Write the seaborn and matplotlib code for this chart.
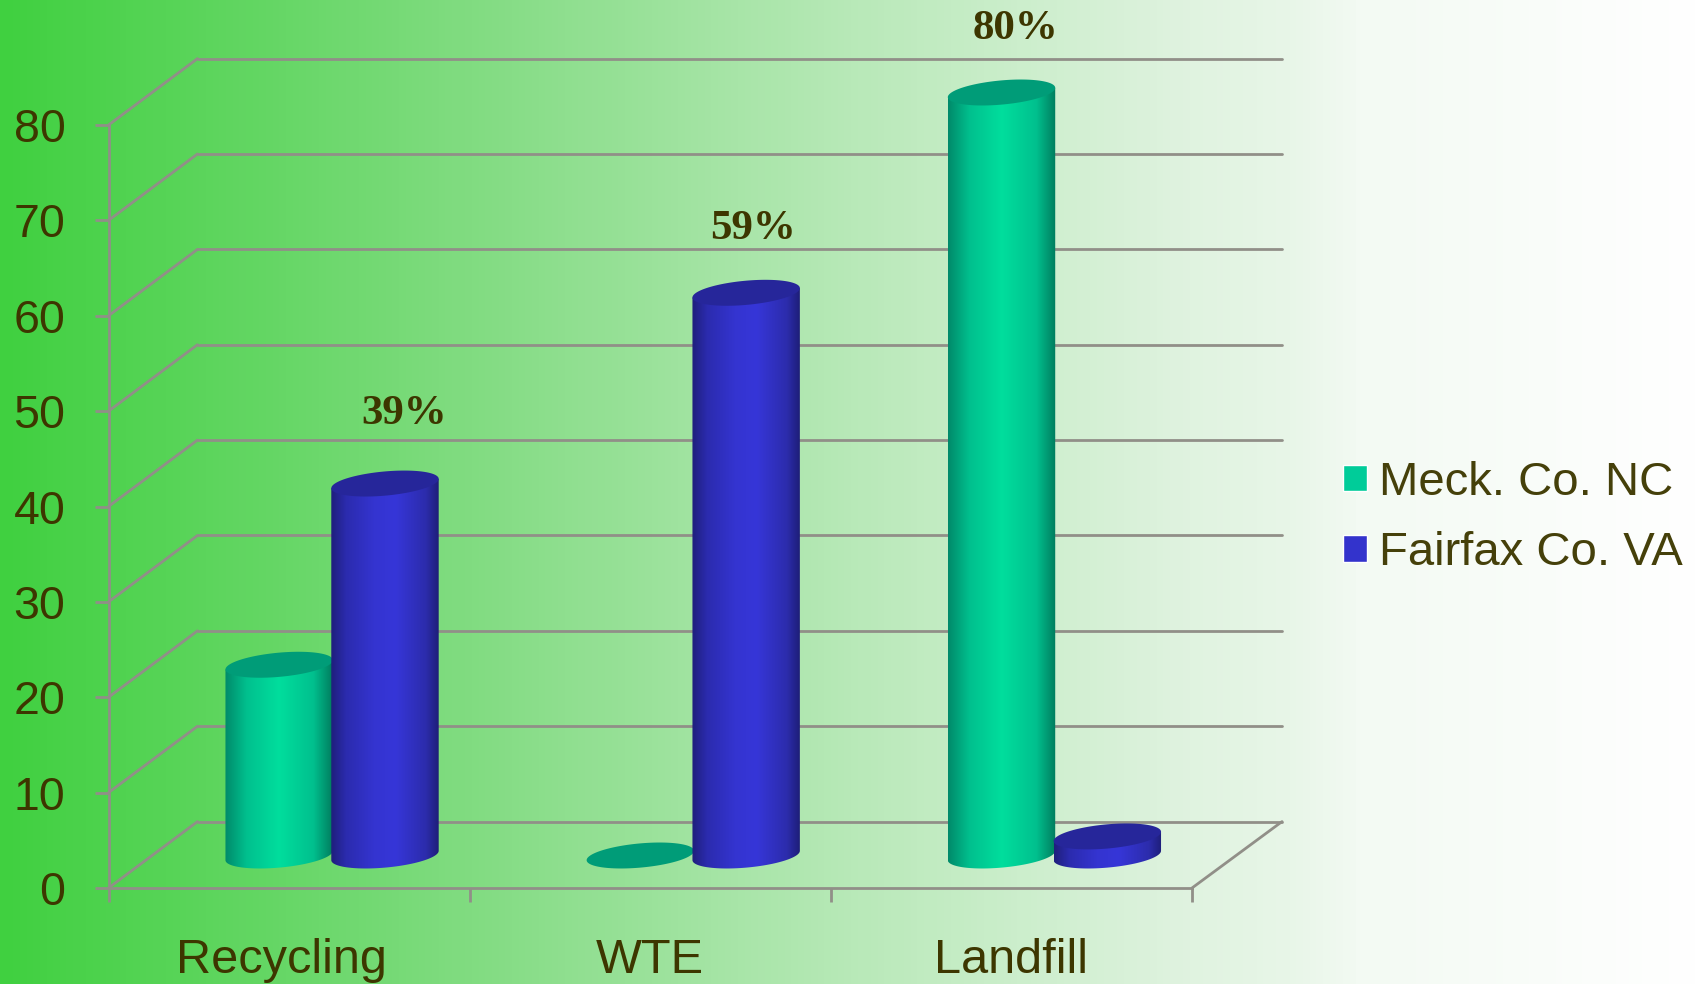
import numpy as np
import pandas as pd
import matplotlib
matplotlib.use('Agg')
import matplotlib.pyplot as plt
import seaborn as sns
from matplotlib.colors import LinearSegmentedColormap
from matplotlib.patches import ConnectionPatch, Polygon
from matplotlib.transforms import ScaledTranslation

categories = ['Recycling', 'WTE', 'Landfill']
counties = ['Meck. Co. NC', 'Fairfax Co. VA']
meck_values = [20, 0, 80]
fairfax_values = [39, 59, 2]
value_labels = {(0, 1): '39%', (1, 1): '59%', (2, 0): '80%'}
y_ticks = list(range(0, 90, 10))

# offsets of the percent labels, in points
label_offsets = {(0, 1): (13.5, 50), (1, 1): (5, 46), (2, 0): (10, 45.5)}

W, H = 1702, 984
TEXT = '#3d3600'
GRID = '#918f88'
LW = 2

sns.set_theme(style='white')
plt.rcParams['font.family'] = ['Liberation Sans', 'DejaVu Sans']

df = pd.DataFrame({
    'category': categories * 2,
    'county': [counties[0]] * 3 + [counties[1]] * 3,
    'value': meck_values + fairfax_values,
})

fig = plt.figure(figsize=(W / 100, H / 100), dpi=100)


def make_axes(left, right, top, bottom, zorder):
    a = fig.add_axes([left / W, 1 - bottom / H, (right - left) / W, (bottom - top) / H], zorder=zorder)
    a.patch.set_alpha(0)
    return a


# page background, green fading to white
bg = fig.add_axes([0, 0, 1, 1], zorder=0)
stops_x = [0, 0.12, 0.3, 0.5, 0.7, 0.76, 0.8, 1.0]
stops_c = ['#40d040', '#5cd55c', '#87dd87', '#b8e9b8', '#e0f3e0', '#e8f6e8', '#f3faf3', '#ffffff']
bg_cmap = LinearSegmentedColormap.from_list('bg', list(zip(stops_x, stops_c)))
bg.imshow(np.linspace(0, 1, 512)[None, :], cmap=bg_cmap, aspect='auto', extent=(0, 1, 0, 1))
bg.axis('off')

# back wall of the 3d box
ax_back = make_axes(197.5, 1282, 58.6, 821.6, 1)
ax_back.set_ylim(0, 80)
ax_back.set_yticks(y_ticks)
ax_back.set_xticks([])
ax_back.tick_params(left=False, labelleft=False)
ax_back.grid(axis='y', color=GRID, lw=LW)
for gl in ax_back.get_ygridlines():
    gl.set_clip_on(False)
sns.despine(ax=ax_back, left=True, bottom=True)

# front plane, holds axis ticks and labels
ax = make_axes(108.5, 1192, 125, 888, 2)
ax.set_xlim(-0.5, 2.5)
ax.set_ylim(0, 80)
ax.set_yticks(y_ticks)
ax.set_xticks(range(3))
ax.set_xticklabels(categories)
ax.set_xticks([-0.5, 0.5, 1.5, 2.5], minor=True)
ax.tick_params(axis='y', length=10, width=LW, color=GRID, labelsize=33.5, labelcolor=TEXT, pad=21, left=True)
ax.tick_params(axis='x', which='major', length=0, labelsize=35, labelcolor=TEXT, pad=36)
ax.tick_params(axis='x', which='minor', length=10, width=LW, color=GRID, bottom=True)
for name, spine in ax.spines.items():
    spine.set_visible(name in ['left', 'bottom'])
    spine.set_color(GRID)
    spine.set_linewidth(LW)
recycling_label = ax.get_xticklabels()[0]
recycling_label.set_transform(recycling_label.get_transform() + ScaledTranslation(-5.5 / 72, 0, fig.dpi_scale_trans))

# depth lines joining the front plane to the back wall
for v in y_ticks:
    fig.add_artist(ConnectionPatch((0, v), (0, v), coordsA=ax.get_yaxis_transform(),
                                   coordsB=ax_back.get_yaxis_transform(), color=GRID, lw=LW, zorder=1.5))
fig.add_artist(ConnectionPatch((1, 0), (1, 0), coordsA=ax.get_yaxis_transform(),
                               coordsB=ax_back.get_yaxis_transform(), color=GRID, lw=LW, zorder=1.5))

# bars sit half way into the box, the y range is padded so the round ends are not cut
px_per_unit = 763 / 80
bars_base = 855.5
y_low, y_high = -5, 90
ax_bars = make_axes(151.5, 1235, bars_base - y_high * px_per_unit, bars_base - y_low * px_per_unit, 3)

palette = ['#00cc99', '#3333cc']
sns.barplot(data=df, x='category', y='value', hue='county', order=categories, hue_order=counties,
            palette=palette, width=0.586, gap=-0.015, saturation=1, ax=ax_bars)
ax_bars.set_xlim(-0.5, 2.5)
ax_bars.set_ylim(y_low, y_high)
ax_bars.axis('off')

body_cmaps = [
    LinearSegmentedColormap.from_list('g', [(0, '#008a6a'), (0.2, '#00c08e'), (0.5, '#00de9d'),
                                            (0.82, '#00c08e'), (1, '#007c5e')]),
    LinearSegmentedColormap.from_list('b', [(0, '#1f1f7c'), (0.14, '#2b2bae'), (0.4, '#3434d0'), (0.6, '#3636d8'),
                                            (0.88, '#2c2cac'), (1, '#1e1e78')]),
]
top_colors = ['#009c78', '#26269a']
shear = 0.49
half_h = 1.27
t = np.linspace(0, 2 * np.pi, 121)

z = 5
for s, container in enumerate(ax_bars.containers):
    for i, bar in enumerate(container):
        x0, w, v = bar.get_x(), bar.get_width(), bar.get_height()
        cx, a = x0 + w / 2, w / 2
        bar.set_visible(False)
        xe = cx + a * np.cos(t)
        base_y = shear * np.cos(t) + half_h * np.sin(t)
        lower = (t >= np.pi)
        if v > 0:
            # body: straight sides closed by the lower half of the base ellipse
            body = np.column_stack([np.r_[x0, xe[lower], x0 + w],
                                    np.r_[v - shear, base_y[lower], v + shear]])
            im = ax_bars.imshow(np.linspace(0, 1, 256)[None, :], cmap=body_cmaps[s], aspect='auto',
                                extent=(x0, x0 + w, -3, v + 1), zorder=z + 2 * s)
            im.set_clip_path(Polygon(body, transform=ax_bars.transData))
        ax_bars.fill(xe, v + base_y, color=top_colors[s], lw=0, zorder=z + 2 * s + 1)
        if (i, s) in value_labels:
            ax_bars.annotate(value_labels[(i, s)], (cx, v), xytext=label_offsets[(i, s)], textcoords='offset points',
                             ha='center', va='center', fontsize=31, fontweight='bold',
                             family='Liberation Serif', color=TEXT, annotation_clip=False, zorder=20)
ax_bars.set_xlim(-0.5, 2.5)
ax_bars.set_ylim(y_low, y_high)

handles, labels = ax_bars.get_legend_handles_labels()
ax_bars.legend(handles, labels, loc='center left', bbox_to_anchor=(1343 / W, 1 - 518 / H),
               bbox_transform=fig.transFigure, frameon=False, fontsize=34, labelcolor='#45400a',
               borderpad=0, borderaxespad=0, handlelength=0.5, handleheight=0.5, handletextpad=0.26,
               labelspacing=0.56)

fig.savefig('out.png', dpi=100)
